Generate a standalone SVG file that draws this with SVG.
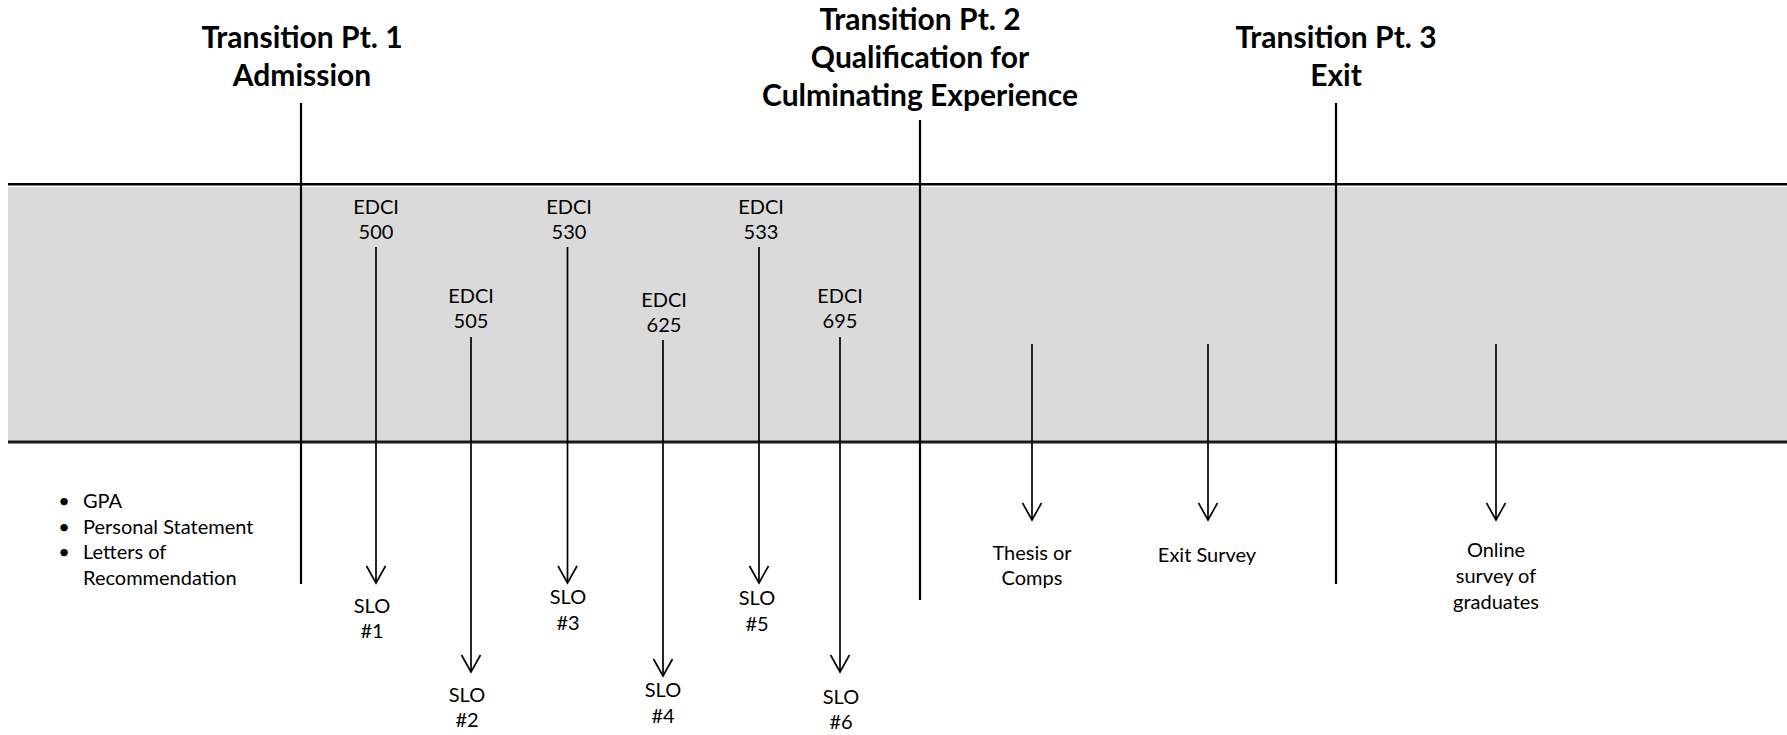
<svg xmlns="http://www.w3.org/2000/svg" width="1787" height="735" viewBox="0 0 1787 735">
<style>
.h{font-family:Lato,"Liberation Sans",sans-serif;font-weight:bold;font-size:30px;fill:#000;text-anchor:middle}
.t{font-family:Lato,"Liberation Sans",sans-serif;font-size:20px;fill:#000;text-anchor:middle}
.l{font-family:Lato,"Liberation Sans",sans-serif;font-size:20px;fill:#000}
.tp{stroke:#000;stroke-width:2.2;fill:none}
.ar{stroke:#000;stroke-width:1.7;fill:none;marker-end:url(#v)}
</style>
<defs>
<marker id="v" markerUnits="userSpaceOnUse" viewBox="-20 -12 24 24" markerWidth="24" markerHeight="24" refX="0" refY="0" orient="auto">
<path d="M-17,-9.5 L0,0 L-17,9.5" fill="none" stroke="#000" stroke-width="1.7"/>
</marker>
</defs>
<rect width="1787" height="735" fill="#fff"/>
<g id="band">
<rect x="8" y="187" width="1779" height="254" fill="#dadada"/>
<line x1="8" y1="184.3" x2="1787" y2="184.3" stroke="#000" stroke-width="2.5"/>
<line x1="8" y1="442" x2="1787" y2="442" stroke="#1a1a1a" stroke-width="3"/>
</g>
<g id="transition1">
<text class="h" x="302" y="48">Transition Pt. 1</text>
<text class="h" x="302" y="85.5">Admission</text>
</g>
<g id="transition2">
<text class="h" x="920" y="30">Transition Pt. 2</text>
<text class="h" x="920" y="67.5">Qualification for</text>
<text class="h" x="920" y="106">Culminating Experience</text>
</g>
<g id="transition3">
<text class="h" x="1336" y="48">Transition Pt. 3</text>
<text class="h" x="1336" y="85.5">Exit</text>
</g>
<g id="admission-criteria">
<text class="t" x="64" y="507.5">•</text>
<text class="l" x="83" y="507.5">GPA</text>
<text class="t" x="64" y="534">•</text>
<text class="l" x="83" y="534">Personal Statement</text>
<text class="t" x="64" y="559">•</text>
<text class="l" x="83" y="559">Letters of</text>
<text class="l" x="83" y="585">Recommendation</text>
</g>
<g id="edci500"><text class="t" x="376" y="214">EDCI</text><text class="t" x="376" y="239">500</text></g>
<g id="edci505"><text class="t" x="471" y="303">EDCI</text><text class="t" x="471" y="328">505</text></g>
<g id="edci530"><text class="t" x="569" y="214">EDCI</text><text class="t" x="569" y="239">530</text></g>
<g id="edci625"><text class="t" x="664" y="307">EDCI</text><text class="t" x="664" y="332">625</text></g>
<g id="edci533"><text class="t" x="761" y="214">EDCI</text><text class="t" x="761" y="239">533</text></g>
<g id="edci695"><text class="t" x="840" y="303">EDCI</text><text class="t" x="840" y="328">695</text></g>
<g id="slo1"><text class="t" x="372" y="613">SLO</text><text class="t" x="372" y="638">#1</text></g>
<g id="slo2"><text class="t" x="467" y="702">SLO</text><text class="t" x="467" y="727">#2</text></g>
<g id="slo3"><text class="t" x="568" y="604">SLO</text><text class="t" x="568" y="630">#3</text></g>
<g id="slo4"><text class="t" x="663" y="697">SLO</text><text class="t" x="663" y="723">#4</text></g>
<g id="slo5"><text class="t" x="757" y="605">SLO</text><text class="t" x="757" y="631">#5</text></g>
<g id="slo6"><text class="t" x="841" y="704">SLO</text><text class="t" x="841" y="729">#6</text></g>
<g id="thesis"><text class="t" x="1032" y="560">Thesis or</text><text class="t" x="1032" y="585">Comps</text></g>
<g id="exit-survey"><text class="t" x="1207" y="562">Exit Survey</text></g>
<g id="online-survey"><text class="t" x="1496" y="557">Online</text><text class="t" x="1496" y="583">survey of</text><text class="t" x="1496" y="609">graduates</text></g>
<g id="connectors">
<line class="tp" x1="301" y1="103" x2="301" y2="584"/>
<line class="tp" x1="920" y1="120" x2="920" y2="600"/>
<line class="tp" x1="1336" y1="103" x2="1336" y2="584"/>
<line class="ar" x1="376" y1="247" x2="376" y2="583"/>
<line class="ar" x1="471" y1="337" x2="471" y2="672"/>
<line class="ar" x1="567.5" y1="247" x2="567.5" y2="583"/>
<line class="ar" x1="663" y1="340" x2="663" y2="676"/>
<line class="ar" x1="759" y1="247" x2="759" y2="583"/>
<line class="ar" x1="840" y1="337" x2="840" y2="672"/>
<line class="ar" x1="1032" y1="344" x2="1032" y2="520"/>
<line class="ar" x1="1208" y1="344" x2="1208" y2="520"/>
<line class="ar" x1="1496" y1="344" x2="1496" y2="520"/>
</g>
</svg>
